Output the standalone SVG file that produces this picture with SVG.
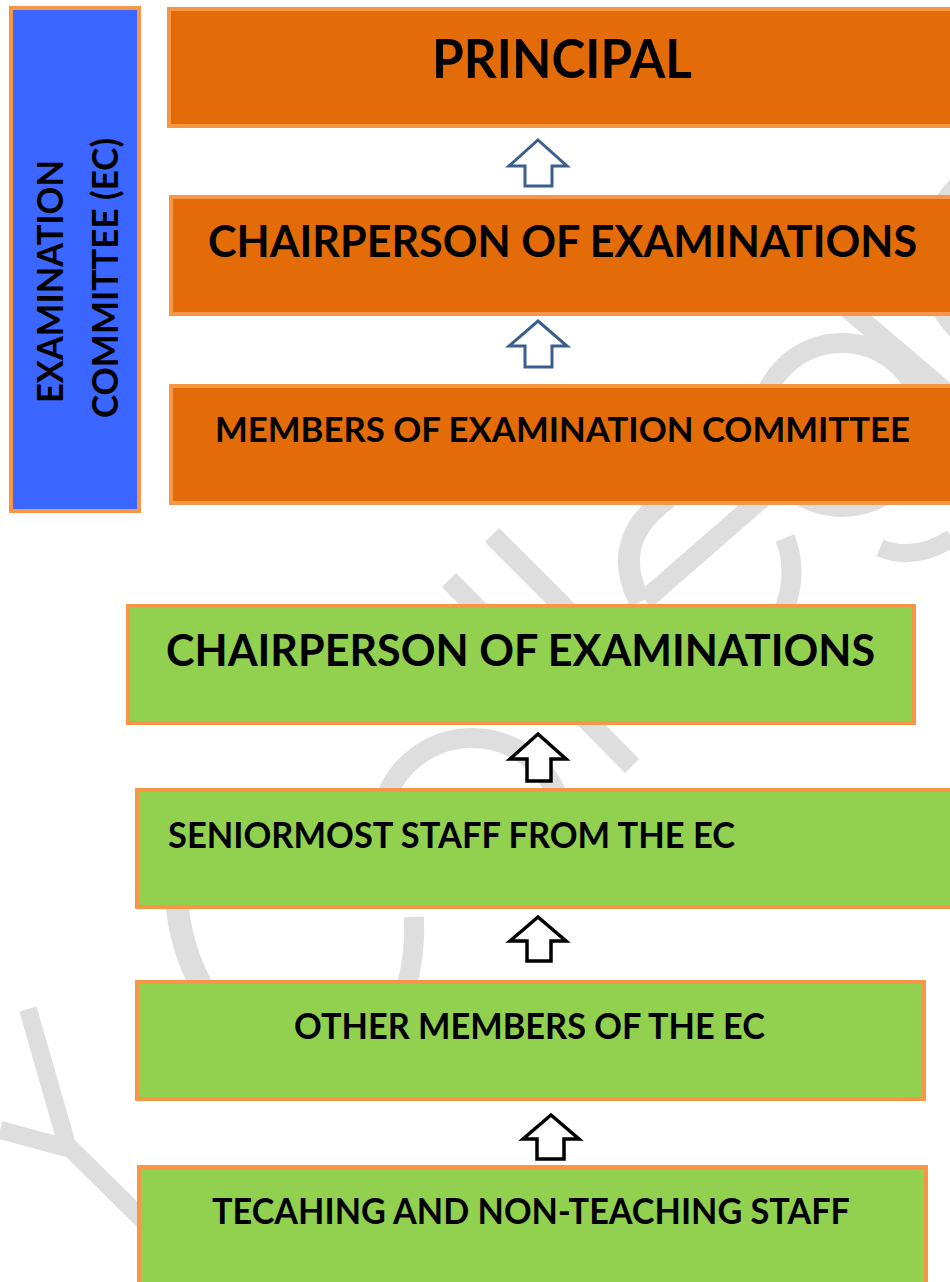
<svg xmlns="http://www.w3.org/2000/svg" width="950" height="1282" viewBox="0 0 950 1282">
<style>
.wm{fill:none;stroke:#DEDEDE;stroke-width:20;stroke-linecap:butt;stroke-linejoin:miter}
.ob{fill:#E36C09;stroke:#F79646;stroke-width:4}
.gb{fill:#92D050;stroke:#F79646;stroke-width:4}
.bb{fill:#3B66FF;stroke:#F79646;stroke-width:4}
.t{font-family:Lato,"Open Sans","Liberation Sans",sans-serif;font-weight:bold;fill:#000}
.c{text-anchor:middle}
.ab{fill:#FFFFFF;stroke:#3A5F8F;stroke-width:3;stroke-linejoin:miter}
.ak{fill:#FFFFFF;stroke:#000;stroke-width:3.5;stroke-linejoin:miter}
</style>
<rect width="950" height="1282" fill="#FFFFFF"/>
<g id="watermark">
<path class="wm" d="M28 1009 L67 1145 M0 1130 L67 1148 M64 1142 L148 1225" style="stroke-width:18"/>
<path class="wm" d="M176 895 Q180 950 205 992" style="stroke-width:23"/>
<path class="wm" d="M414 917 Q416 955 405 992"/>
<path class="wm" d="M385 800 A92 92 0 0 1 559 800"/>
<path class="wm" d="M449 580 L632 766"/>
<path class="wm" d="M492 535 L660 703"/>
<path class="wm" d="M668 498 Q608 540 640 602" style="stroke-width:22"/>
<path class="wm" d="M762 498 L645 600"/>
<path class="wm" d="M785 538 Q798 570 785 608"/>
<path class="wm" d="M880 548 Q915 562 952 538" style="stroke-width:18"/>
<circle class="wm" cx="842" cy="425" r="82"/>
<path class="wm" d="M800 268 L1000 438"/>
<circle class="wm" cx="1030" cy="258" r="102"/>
</g>
<g id="connectors">
<path class="ab" d="M538 140 L567 166 L552 166 L552 186 L525 186 L525 166 L509 166 Z"/>
<path class="ab" d="M538 321 L567 346 L552 346 L552 367 L525 367 L525 346 L509 346 Z"/>
<path class="ak" d="M538 734 L566 759 L551 759 L551 781 L527 781 L527 759 L510 759 Z"/>
<path class="ak" d="M538 917 L566 941 L551 941 L551 961 L527 961 L527 941 L510 941 Z"/>
<path class="ak" d="M551 1115 L579 1139 L564 1139 L564 1159 L537 1159 L537 1139 L523 1139 Z"/>
</g>
<g id="ec">
<rect class="bb" x="11" y="8" width="128" height="503"/>
<text class="t c" font-size="36" transform="translate(63,281.5) rotate(-90)" textLength="243" lengthAdjust="spacingAndGlyphs">EXAMINATION</text>
<text class="t c" font-size="36" transform="translate(118,278) rotate(-90)" textLength="280" lengthAdjust="spacingAndGlyphs">COMMITTEE (EC)</text>
</g>
<g id="principal">
<rect class="ob" x="169" y="9" width="800" height="117"/>
<text class="t c" x="562" y="78" font-size="53" textLength="260" lengthAdjust="spacingAndGlyphs">PRINCIPAL</text>
</g>
<g id="chair-orange">
<rect class="ob" x="171" y="197" width="800" height="117"/>
<text class="t c" x="562.5" y="257" font-size="44.5" textLength="709" lengthAdjust="spacingAndGlyphs">CHAIRPERSON OF EXAMINATIONS</text>
</g>
<g id="members">
<rect class="ob" x="171" y="386" width="800" height="117"/>
<text class="t c" x="562.5" y="442" font-size="35" textLength="695" lengthAdjust="spacingAndGlyphs">MEMBERS OF EXAMINATION COMMITTEE</text>
</g>
<g id="chair-green">
<rect class="gb" x="128" y="606" width="786" height="117"/>
<text class="t c" x="520.5" y="666" font-size="43.5" textLength="709" lengthAdjust="spacingAndGlyphs">CHAIRPERSON OF EXAMINATIONS</text>
</g>
<g id="seniormost">
<rect class="gb" x="137" y="790" width="830" height="117"/>
<text class="t" x="168" y="848" font-size="36" textLength="567" lengthAdjust="spacingAndGlyphs">SENIORMOST STAFF FROM THE EC</text>
</g>
<g id="other-members">
<rect class="gb" x="137" y="982" width="787" height="117"/>
<text class="t c" x="529.5" y="1039" font-size="36" textLength="471" lengthAdjust="spacingAndGlyphs">OTHER MEMBERS OF THE EC</text>
</g>
<g id="staff">
<rect class="gb" x="139" y="1167" width="787" height="130"/>
<text class="t c" x="531" y="1224" font-size="37" textLength="638" lengthAdjust="spacingAndGlyphs">TECAHING AND NON-TEACHING STAFF</text>
</g>
</svg>
